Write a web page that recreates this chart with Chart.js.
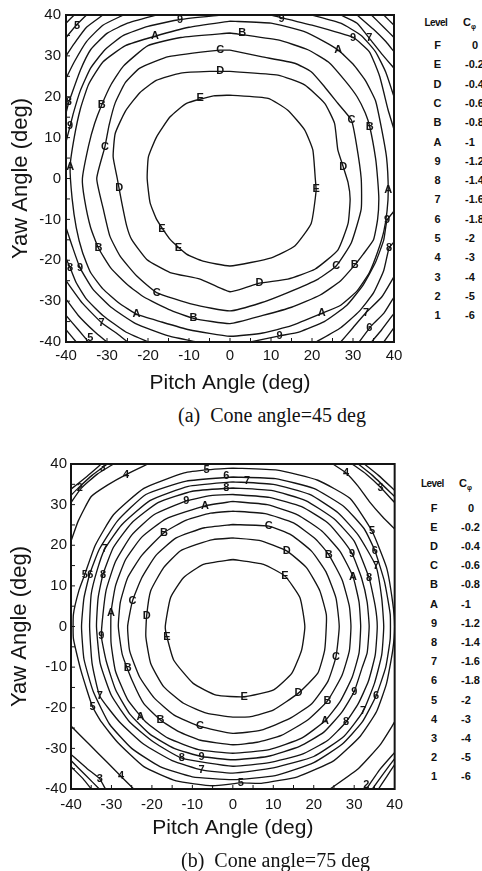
<!DOCTYPE html>
<html>
<head>
<meta charset="utf-8">
<script src="https://cdn.jsdelivr.net/npm/chart.js@4.4.1/dist/chart.umd.min.js"></script>
<style>
html, body { margin: 0; padding: 0; background: #fff; width: 482px; height: 871px; overflow: hidden; position: relative; }
canvas { position: absolute; left: 0; }
#chartA { top: 0; }
#chartB { top: 440px; }
.caption { position: absolute; font-family: "Liberation Serif", "Times New Roman", serif; font-size: 20px; line-height: 24px; color: #111; white-space: nowrap; }
.legend div { position: absolute; font-family: "Liberation Sans", Arial, sans-serif; font-weight: bold; font-size: 11px; line-height: 12px; color: #111; white-space: nowrap; }
.legend sub { font-size: 7px; }
</style>
</head>
<body>
<canvas id="chartA" width="410" height="400"></canvas>
<canvas id="chartB" width="410" height="410"></canvas>
<div class="caption" style="left:178px; top:403px;">(a)&nbsp; Cone angle=45 deg</div>
<div class="caption" style="left:181px; top:848px;">(b)&nbsp; Cone angle=75 deg</div>
<div class="legend" id="legendA"></div>
<div class="legend" id="legendB"></div>

<script>
// legend table (same levels in both panels)
const levelCodes = ['F', 'E', 'D', 'C', 'B', 'A', '9', '8', '7', '6', '5', '4', '3', '2', '1'];
const levelValues = ['0', '-0.2', '-0.4', '-0.6', '-0.8', '-1', '-1.2', '-1.4', '-1.6', '-1.8', '-2', '-3', '-4', '-5', '-6'];

// ---- (a) cone angle 45 deg : closed contours [pitch, yaw] ----
const aE = [[0,20.4],[9.3,19.6],[14.1,16.7],[18.2,11.9],[20.2,7],[20.8,0],[21,-3],[19.8,-11],[15.8,-16.5],[10.1,-19.4],[0,-21.4],[-6.6,-20.2],[-10.6,-18.5],[-14.6,-14.9],[-17.9,-10],[-19.5,-5.9],[-20.2,0],[-19.9,5.3],[-17.9,10.2],[-14.6,15.1],[-10.6,18.4],[-4,20.2],[0,20.4]];
const aD = [[0,26.2],[11.7,25.3],[18.2,22.9],[23.1,18.4],[25.5,13.5],[26.3,7],[27.6,2.9],[28.8,-1],[29.3,-5],[28.8,-11],[26.3,-17.5],[20.7,-22.2],[14.1,-24.6],[7.2,-25.6],[0,-27.7],[-7.3,-24.6],[-14.6,-23],[-20.3,-19.8],[-24,-14.9],[-25.2,-11.6],[-26.4,-5.9],[-27.5,0],[-28.5,5.3],[-28,11],[-25.5,16.5],[-22,21],[-18,24],[-12,25.8],[-5,26.2],[0,26.2]];
const aC = [[0,31.4],[7.6,29.8],[15.8,28.2],[19.8,26.1],[23.1,22.4],[26.3,18.4],[29.6,14.3],[30.8,8.6],[32,0],[32,-7.5],[29.6,-15.7],[25.9,-21.4],[21.5,-24.6],[14.1,-27.9],[7.6,-30.4],[0,-32.4],[-9,-30.8],[-17.9,-27.9],[-22.8,-23.8],[-26.8,-19],[-29.3,-14.1],[-30.9,-7.5],[-32.5,0],[-30.5,7.8],[-29.5,13],[-28,18.5],[-25.5,23.5],[-22,27],[-15,29.8],[-2.4,31.4],[0,31.4]];
const aB = [[0,35.6],[11.7,33.9],[19,31.5],[24,28.5],[28,24],[31,20],[33,16],[34.1,12.6],[35.5,5],[36,0],[36.3,-5],[36,-10],[35,-15],[32.5,-18.5],[30.4,-21.2],[27,-25],[22,-28.5],[15,-31.5],[8,-33.5],[0,-35.5],[-8.9,-34.2],[-15,-32],[-21,-29],[-25,-26],[-29,-22],[-32.1,-17],[-34,-12],[-35.5,-5],[-36,0],[-34.5,8],[-33,13.5],[-31.3,18],[-29,23],[-26,27.5],[-20,32.5],[-12,34.5],[0,35.6]];
const aA = [[0,38.5],[10,38],[18,36],[23,33.5],[26.4,31.4],[30,28],[33,24],[35.5,19],[37,12],[38.2,5],[38.6,-2.9],[38.3,-8],[37.5,-13],[36,-18],[34,-23],[31,-27.5],[27,-31],[22.4,-33],[15,-36],[8,-37.8],[0,-38.6],[-10,-37],[-17,-35],[-22.8,-33.2],[-27,-30.5],[-31,-27],[-34,-23],[-36,-18],[-37.5,-12],[-38.5,-5],[-39,2.9],[-38,10],[-36.5,17],[-34.5,23],[-31,28.5],[-25.5,32.5],[-18.3,34.8],[-10,37],[0,38.5]];

// ---- (a) corner arcs ----
const a9tl = [[-2,40],[-12.2,38.9],[-20,37.2],[-26,35],[-30.5,31.5],[-34,27],[-36.5,21.5],[-38.2,16],[-39,12.8],[-40,9]];
const a8tl = [[-18,40],[-25,38],[-30,35.5],[-34,31.5],[-36.5,26.5],[-38.5,21],[-39.3,18.7],[-40,16]];
const a7tl = [[-26,40],[-31,37.5],[-35,33.5],[-38,28.5],[-40,24.5]];
const a6tl = [[-31,40],[-35,37],[-38,33],[-40,30]];
const a5tl = [[-35,40],[-37.5,37.5],[-40,34.5]];
const a4tl = [[-38,40],[-40,38]];
const a9tr = [[10,40],[20,37.5],[30,34.5],[34,31],[36.5,25],[38.5,17],[40,12]];
const a8tr = [[20,40],[27,38],[32,35],[35.5,31],[38,26],[40,20]];
const a7tr = [[27,40],[31,38],[34,34.3],[37,30.5],[40,27]];
const a6tr = [[31,40],[35,36.5],[38,33.5],[40,31]];
const a5tr = [[34.5,40],[37.5,37],[40,34.5]];
const a4tr = [[37.5,40],[40,37.5]];
const a9br = [[40,-8],[38.3,-10.2],[37.5,-15],[35.5,-20.5],[32.5,-26],[28.5,-31],[23,-35],[17,-37.5],[12.1,-38.5],[5,-40]];
const a8br = [[40,-15.5],[38.8,-17],[37.5,-22.5],[35,-28],[31.5,-32.5],[27,-36.5],[21,-40]];
const a7br = [[40,-24],[37,-29],[33.2,-32.8],[30,-36.5],[27,-40]];
const a6br = [[40,-29],[37.5,-33],[34.5,-36],[31.5,-40]];
const a5br = [[40,-33],[37,-37],[34.5,-40]];
const a4br = [[40,-36.5],[37.5,-40]];
const a9bl = [[-40,-12],[-38.5,-16.5],[-36.6,-21.8],[-33.5,-27],[-29,-31.5],[-23,-35.5],[-15,-38.5],[-8,-40]];
const a8bl = [[-40,-19.5],[-39,-21.8],[-37.5,-25.5],[-35,-29.5],[-31,-33.5],[-25.5,-37.5],[-20,-40]];
const a7bl = [[-40,-25],[-36,-30.5],[-31.3,-35.3],[-27.5,-38],[-25,-40]];
const a6bl = [[-40,-29.5],[-37,-33.5],[-33,-37.5],[-30,-40]];
const a5bl = [[-40,-33.5],[-37,-37],[-34.5,-40]];
const a4bl = [[-40,-37],[-37.5,-40]];

const labelsA = [['9',-12.2,38.9],['9',12.6,39],['5',-37.3,37.3],['A',-18.3,34.8],['B',3,35.6],['9',30,34.5],['7',34,34.3],['A',26.4,31.4],['C',-2.4,31.4],['D',-2.4,26.2],['E',-7.3,19.8],['8',-39.3,18.7],['B',-31.3,18],['9',-39,12.8],['C',29.6,14.3],['B',34.1,12.6],['C',-30.5,7.8],['A',-39,2.9],['D',27.6,2.9],['D',-27,-2.4],['E',21,-2.5],['A',38.6,-2.9],['E',-16.6,-12.3],['9',38.3,-10.2],['E',-12.6,-16.9],['B',-32.1,-17],['8',38.8,-17],['8',-39,-21.8],['9',-36.6,-21.8],['C',25.9,-21.4],['B',30.4,-21.2],['D',7.2,-25.6],['C',-17.9,-27.9],['A',-22.8,-33.2],['A',22.4,-33],['7',33.2,-32.8],['B',-8.9,-34.2],['7',-31.3,-35.3],['6',34,-36.5],['9',12.1,-38.5],['5',-34.1,-38.9]];

// ---- (b) cone angle 75 deg : closed contours ----
const bE = [[0,16.5],[7.6,15.3],[12.9,12.4],[16.6,7.1],[17.8,0],[17,-5.8],[14.6,-11.5],[10.1,-15.6],[2.8,-17.3],[-4.1,-16.9],[-9.8,-14],[-14.6,-8.3],[-16.3,-2.5],[-16.7,0],[-15.4,7.1],[-12.2,12],[-7.3,15.3],[0,16.5]];
const bD = [[0,21.8],[6.5,21.2],[13.3,18.6],[18.2,14.5],[21.5,8.8],[23.1,3],[23.1,0],[22.7,-5.8],[21,-11.5],[16.2,-16.4],[10.1,-20.5],[4.4,-22.2],[0,-22.3],[-6.5,-21.3],[-12.2,-18.9],[-17.1,-14.8],[-20.3,-9.1],[-21.5,-2.5],[-21.3,2.6],[-20.3,8.8],[-17.1,14.5],[-13,18.6],[-8.9,20.2],[-4.9,21.4],[0,21.8]];
const bC = [[0,25.1],[8.9,24.7],[14.5,22.5],[19.5,18.5],[23,13.5],[25.5,7],[26.3,0],[25.5,-7.4],[23.5,-13.5],[19.5,-19],[14,-22.7],[7,-25.5],[0,-26.3],[-8.1,-24.6],[-14.5,-21.8],[-19.5,-17.5],[-23,-12.5],[-25.5,-6],[-26,0],[-24.8,6.3],[-22.5,12],[-19,17.5],[-14,21.8],[-7,24.3],[0,25.1]];
const bB = [[0,28.4],[8,27.8],[15,25.5],[20.5,21.5],[23.7,17.7],[27,11.5],[28.8,5],[29.2,0],[28.8,-6],[27,-12],[23.4,-18.3],[18.5,-23],[12,-26.8],[6,-28.5],[0,-29.1],[-8,-28],[-13.5,-25.8],[-17.9,-23],[-22,-19],[-24.8,-13.5],[-27.3,-7],[-28.3,0],[-27.8,6],[-26,12],[-22.5,17.5],[-17,23.1],[-11.5,26.2],[-5.5,27.9],[0,28.4]];
const bA = [[0,30.8],[8.5,30],[16,27.5],[22,23.5],[26.5,18.5],[29.7,12.3],[31.2,6],[31.6,0],[31.2,-6.5],[29.5,-12.5],[26.5,-18.5],[22.8,-23.2],[17,-27.5],[9,-30.3],[0,-31.2],[-8.5,-30.3],[-16,-27.5],[-21.5,-23.5],[-26,-18],[-29,-11],[-30.1,-4],[-30.1,3.4],[-29,10],[-26.5,16.5],[-22.5,22],[-16.5,26.5],[-6.9,29.7],[0,30.8]];
const b9 = [[0,32.5],[9,31.8],[17,29.5],[23.5,25.5],[27,21.5],[29.5,17.9],[31.8,12],[33.2,6],[33.7,0],[33.2,-6.5],[32,-10],[30,-16],[27,-21],[22.5,-26],[16.5,-29.5],[8.5,-32],[0,-32.8],[-7.7,-32],[-14.5,-30],[-20.5,-26.5],[-25.5,-21.5],[-29,-15.5],[-31.3,-8.5],[-32.5,-2.4],[-32.1,3],[-31.3,9],[-29,16],[-25,22.5],[-19.5,27.5],[-11.5,30.9],[-5.5,32.2],[0,32.5]];
const b8 = [[0,34.1],[9.5,33.5],[18,31],[25,26.5],[30,21],[33.7,11.9],[35.2,5],[35.7,0],[35.2,-7],[33.5,-13.5],[31,-19],[28,-23.5],[23.5,-28],[17,-31.5],[9,-33.5],[0,-34.4],[-12.6,-32.4],[-19.5,-28.5],[-25.5,-23.5],[-30,-17],[-32.8,-9],[-33.7,0],[-33.3,7],[-32.1,12.8],[-29.5,19.5],[-25,25.5],[-18.5,30.5],[-10,33.3],[0,34.1]];
const b7 = [[0,35.6],[10,35],[19,32.5],[26,28],[31,22.5],[35.4,14.8],[36.8,7],[37.3,0],[36.8,-7],[35,-14],[32.2,-20.9],[27.5,-27],[20,-32],[10,-34.8],[0,-36.1],[-7.7,-35.3],[-15,-33],[-22,-29],[-28,-23.5],[-32.9,-17.1],[-34.8,-9],[-35.4,0],[-35,8],[-33.5,14],[-31.7,19],[-27.5,25],[-20.5,31],[-11,34.5],[0,35.6]];
const b6 = [[0,36.8],[10.5,36.4],[20,34],[27.5,29.5],[32.5,24],[35.1,18.7],[37.5,11],[38.9,3],[38.9,-3],[37.8,-10],[35.4,-17.1],[32,-23.5],[27,-29],[20,-33.5],[10.5,-36.7],[0,-37.7],[-10,-37],[-18,-34.5],[-25,-30],[-30.5,-24],[-34.5,-16],[-36.8,-8],[-37.4,0],[-36.8,7],[-35.4,12.8],[-33,19],[-28.5,26],[-21.5,32.5],[-11.5,35.8],[0,36.8]];
const b5 = [[0,39],[11,38.5],[21,36],[29,31.5],[34.4,23.5],[38,14.5],[39.5,6],[40,0],[39.5,-6],[38,-14],[35.5,-21],[31.5,-27],[25,-33],[16,-37],[7,-38.6],[2,-38.5],[-5,-39.2],[-14,-38],[-22,-34.5],[-28.5,-28.5],[-32.5,-23.5],[-34.7,-19.7],[-37.5,-11],[-39.4,-3],[-39.4,3],[-38,9],[-36.6,12.8],[-34,20],[-29.5,27.5],[-22,34],[-12,37.8],[-6,38.6],[0,39]];

// ---- (b) corner arcs ----
const b4tl = [[-21,40],[-26.4,37.4],[-31,34.8],[-35,32],[-38.2,26],[-40,21]];
const b3tl = [[-29.5,40],[-33.5,37.5],[-37.5,34],[-40,30.5]];
const b2tl = [[-31,40],[-34.8,37.2],[-38.3,34],[-40,32.3]];
const b1tl = [[-32.5,40],[-36,37],[-40,33.8]];
const b4tr = [[24.7,40],[28,37.8],[31,34.5],[33.7,30.8],[37,27],[40,24]];
const b3tr = [[29.5,40],[33,37.5],[36.5,34.3],[40,30.5]];
const b2tr = [[31,40],[34.5,37.2],[40,32]];
const b1tr = [[32.5,40],[36,37.2],[40,33.5]];
const b4br = [[40,-23.5],[36.5,-29],[31,-35],[24,-40]];
const b3br = [[40,-31],[36.5,-35],[33,-40]];
const b2br = [[40,-32.5],[37,-36.5],[34.5,-40]];
const b1br = [[40,-34],[38,-37],[36,-40]];
const b4bl = [[-40,-24.5],[-35.5,-29],[-31,-33.5],[-27.6,-36.9],[-24.5,-40]];
const b3bl = [[-40,-31.5],[-36,-35],[-32.9,-37.5],[-31.5,-40]];
const b2bl = [[-40,-33],[-36.5,-36.5],[-33,-40]];
const b1bl = [[-40,-34.5],[-37,-37.5],[-35,-40]];

const labelsB = [['4',-26.4,37.4],['3',-32.2,39],['2',-37.8,34.1],['5',-6.5,38.6],['6',-1.6,37],['7',3.5,35.9],['8',-1.6,34.1],['9',-11.5,30.9],['A',-6.9,29.7],['B',-17,23.1],['C',8.9,24.7],['D',13.3,18.6],['E',12.9,12.4],['4',28,37.8],['3',36.5,34.2],['5',34.4,23.5],['6',35.1,18.7],['7',35.4,14.8],['9',29.5,17.9],['B',23.7,17.7],['A',29.7,12.3],['8',33.7,11.9],['5',-36.6,12.8],['6',-35.2,12.8],['8',-32.1,12.8],['7',-31.7,19],['C',-24.8,6.3],['A',-30.1,3.4],['D',-21.3,2.6],['9',-32.5,-2.4],['E',-16.3,-2.5],['C',25.5,-7.4],['B',-26,-10.1],['9',30,-16],['D',16.2,-16.4],['E',2.8,-17.3],['6',35.4,-17.1],['B',23.4,-18.3],['7',-32.9,-17.1],['5',-34.7,-19.7],['A',-22.8,-22.3],['B',-17.9,-23],['C',-8.1,-24.6],['A',22.8,-23.2],['8',28,-23.5],['7',32.2,-20.9],['8',-12.6,-32.4],['9',-7.7,-32],['7',-7.7,-35.3],['5',2,-38.5],['3',-32.9,-37.5],['4',-27.6,-36.9],['2',33,-39]];

const seriesA = [aE, aD, aC, aB, aA,
    a9tl, a8tl, a7tl, a6tl, a5tl, a4tl,
    a9tr, a8tr, a7tr, a6tr, a5tr, a4tr,
    a9br, a8br, a7br, a6br, a5br, a4br,
    a9bl, a8bl, a7bl, a6bl, a5bl, a4bl];
const seriesB = [bE, bD, bC, bB, bA, b9, b8, b7, b6, b5,
    b4tl, b3tl, b2tl, b1tl, b4tr, b3tr, b2tr, b1tr,
    b4br, b3br, b2br, b1br, b4bl, b3bl, b2bl, b1bl];

const sans = '"Liberation Sans", Arial, sans-serif';
const ink = '#141414';

// letters on the contour lines + inward ticks + frame
function frameAndLabels(labels) {
    return {
        id: 'frameAndLabels',
        afterDatasetsDraw(chart) {
            const { ctx, chartArea: a, scales: { x, y } } = chart;
            ctx.save();
            ctx.strokeStyle = ink;
            ctx.lineWidth = 1;
            for (let v = -35; v <= 35; v += 5) {
                const px = x.getPixelForValue(v);
                const py = y.getPixelForValue(v);
                ctx.beginPath();
                ctx.moveTo(px, a.bottom); ctx.lineTo(px, a.bottom - 4);
                ctx.moveTo(a.left, py); ctx.lineTo(a.left + 4, py);
                ctx.stroke();
            }
            ctx.lineWidth = 2;
            ctx.strokeRect(a.left, a.top, a.width, a.height);

            ctx.fillStyle = ink;
            ctx.font = 'bold 11px ' + sans;
            ctx.textAlign = 'center';
            ctx.textBaseline = 'middle';
            labels.forEach(l => {
                ctx.fillText(l[0], x.getPixelForValue(l[1]), y.getPixelForValue(l[2]));
            });
            ctx.restore();
        }
    };
}

function makeChart(id, series, labels, g) {
    return new Chart(document.getElementById(id), {
        type: 'scatter',
        data: {
            datasets: series.map(s => ({
                data: s.map(p => ({ x: p[0], y: p[1] })),
                showLine: true,
                borderColor: ink,
                borderWidth: 1.35,
                pointRadius: 0,
                tension: 0.15,
                fill: false
            }))
        },
        options: {
            responsive: false,
            animation: false,
            layout: { padding: { left: 0, top: g.top, right: g.right, bottom: 0 } },
            plugins: { legend: { display: false }, tooltip: { enabled: false } },
            scales: {
                x: {
                    type: 'linear', min: -40, max: 40,
                    grid: { display: false, drawTicks: false },
                    border: { display: false },
                    ticks: { stepSize: 10, color: ink, padding: g.xPad, maxRotation: 0, font: { family: sans, size: 15 } },
                    title: { display: true, text: 'Pitch Angle (deg)', color: ink, font: { family: sans, size: 21 }, padding: { top: 0, bottom: g.xTitle } },
                    afterFit(s) { s.height = g.xh; }
                },
                y: {
                    type: 'linear', min: -40, max: 40,
                    grid: { display: false, drawTicks: false },
                    border: { display: false },
                    ticks: { stepSize: 10, color: ink, padding: g.yPad, font: { family: sans, size: 15 } },
                    title: { display: true, text: 'Yaw Angle (deg)', color: ink, font: { family: sans, size: 22 }, padding: { top: g.yTitle, bottom: 0 } },
                    afterFit(s) { s.width = g.yw; }
                }
            }
        },
        plugins: [frameAndLabels(labels)]
    });
}

makeChart('chartA', seriesA, labelsA, { top: 15, right: 16, xh: 58, yw: 66, xPad: 5, yPad: 5, xTitle: 4.4, yTitle: 8 });
makeChart('chartB', seriesB, labelsB, { top: 24, right: 10, xh: 61, yw: 71, xPad: 7, yPad: 4, xTitle: 9.4, yTitle: 7 });

// level table at the right of each panel
function buildLegend(id, codeX, valX, headY, rowY, step) {
    const box = document.getElementById(id);
    const add = (html, left, cy, center) => {
        const d = document.createElement('div');
        d.innerHTML = html;
        d.style.left = left + 'px';
        d.style.top = (cy - 6) + 'px';
        if (center) d.style.transform = 'translateX(-50%)';
        box.appendChild(d);
    };
    add('<span style="font-size:10px;letter-spacing:-0.6px">Level</span>', codeX - 13, headY, false);
    add('C<sub>&phi;</sub>', valX - 2, headY, false);
    levelCodes.forEach((c, i) => {
        add(c, codeX, rowY + i * step, true);
        const v = levelValues[i];
        add(v, v === '0' ? valX + 7 : valX, rowY + i * step, false);
    });
}
buildLegend('legendA', 437.5, 465, 22, 45, 19.3);
buildLegend('legendB', 434, 461, 483, 507.5, 19.2);
</script>
</body>
</html>
